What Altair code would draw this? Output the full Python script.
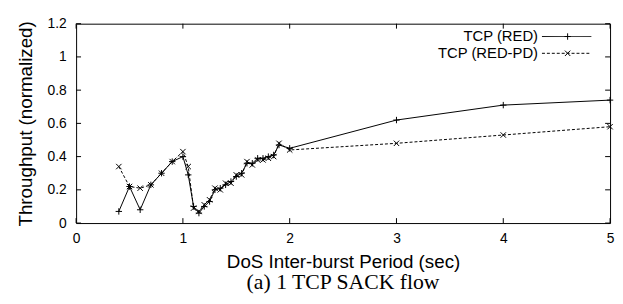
import altair as alt
import pandas as pd

# ---- data ----
period = [0.4, 0.5, 0.6, 0.7, 0.8, 0.9, 1.0, 1.05, 1.1, 1.15, 1.2, 1.25, 1.3, 1.35,
          1.4, 1.45, 1.5, 1.55, 1.6, 1.65, 1.7, 1.75, 1.8, 1.85, 1.9, 2.0, 3.0, 4.0, 5.0]
red = [0.07, 0.22, 0.08, 0.23, 0.30, 0.37, 0.40, 0.29, 0.10, 0.06, 0.10, 0.13, 0.20, 0.21,
       0.23, 0.25, 0.28, 0.30, 0.36, 0.36, 0.39, 0.39, 0.40, 0.41, 0.47, 0.45, 0.62, 0.71, 0.74]
redpd = [0.34, 0.22, 0.21, 0.23, 0.30, 0.37, 0.43, 0.34, 0.09, 0.07, 0.11, 0.14, 0.21, 0.20,
         0.24, 0.24, 0.29, 0.29, 0.37, 0.35, 0.38, 0.38, 0.39, 0.40, 0.48, 0.44, 0.48, 0.53, 0.58]
series_names = ["TCP (RED)", "TCP (RED-PD)"]
x_ticks = [0, 1, 2, 3, 4, 5]
y_ticks = [0, 0.2, 0.4, 0.6, 0.8, 1.0, 1.2]
x_title = "DoS Inter-burst Period (sec)"
y_title = "Throughput (normalized)"
caption = "(a) 1 TCP SACK flow"

W, H = 541, 202
FONT = "Liberation Sans"
PLUS = "M-1,0L1,0M0,-1L0,1"
CROSS = "M-1,-1L1,1M-1,1L1,-1"

df_red = pd.DataFrame({"period": period, "value": red})
df_pd = pd.DataFrame({"period": period, "value": redpd})

xs = alt.Scale(domain=[0, 5], nice=False, zero=False)
ys = alt.Scale(domain=[0, 1.2], nice=False, zero=False)

x_axis = alt.Axis(values=x_ticks, title=x_title, grid=False, ticks=False, domain=False,
                  labelFont=FONT, labelFontSize=14, labelColor="black", labelPadding=9,
                  titleFont=FONT, titleFontSize=19, titleFontWeight="normal",
                  titleColor="black", titlePadding=7, labelFlush=False)
y_axis = alt.Axis(values=y_ticks, title=y_title, grid=False, ticks=False, domain=False,
                  format="~g",
                  labelFont=FONT, labelFontSize=14, labelColor="black", labelPadding=10,
                  titleFont=FONT, titleFontSize=19, titleFontWeight="normal",
                  titleColor="black", titlePadding=12, labelFlush=False)


def X(field):
    return alt.X(field, scale=xs, axis=x_axis)


def Y(field):
    return alt.Y(field, scale=ys, axis=y_axis)


red_line = alt.Chart(df_red).mark_line(color="black", strokeWidth=1).encode(
    x=X("period:Q"), y=Y("value:Q"))
pd_line = alt.Chart(df_pd).mark_line(color="black", strokeWidth=1, strokeDash=[3, 2]).encode(
    x=X("period:Q"), y=Y("value:Q"))
red_pts = alt.Chart(df_red).mark_point(shape=PLUS, size=42, color="black", strokeWidth=1,
                                       filled=False, opacity=1).encode(
    x=X("period:Q"), y=Y("value:Q"))
pd_pts = alt.Chart(df_pd).mark_point(shape=CROSS, size=30, color="black", strokeWidth=1,
                                     filled=False, opacity=1).encode(
    x=X("period:Q"), y=Y("value:Q"))

# inward tick marks on all four sides
xt = pd.DataFrame({"period": x_ticks})
yt = pd.DataFrame({"value": y_ticks})
TL = 5
xb = alt.Chart(xt).mark_rule(color="black", strokeWidth=1).encode(
    x=X("period:Q"), y=alt.value(H), y2=alt.value(H - TL))
xtop = alt.Chart(xt).mark_rule(color="black", strokeWidth=1).encode(
    x=X("period:Q"), y=alt.value(0), y2=alt.value(TL))
yl = alt.Chart(yt).mark_rule(color="black", strokeWidth=1).encode(
    y=Y("value:Q"), x=alt.value(0), x2=alt.value(TL))
yr = alt.Chart(yt).mark_rule(color="black", strokeWidth=1).encode(
    y=Y("value:Q"), x=alt.value(W), x2=alt.value(W - TL))

# legend (top right, inside the frame)
lg_text_x, lg_x1, lg_x2, lg_mx = 468, 472, 522, 498
lg_y = [13, 30]
lg = []
for i, (name, dash, shape, sz) in enumerate([(series_names[0], [1, 0], PLUS, 42),
                                              (series_names[1], [3, 2], CROSS, 30)]):
    d = pd.DataFrame({"n": [name]})
    lg.append(alt.Chart(d).mark_text(
        align="right", baseline="middle", font=FONT, fontSize=15, color="black").encode(
        x=alt.value(lg_text_x), y=alt.value(lg_y[i]), text="n:N"))
    lg.append(alt.Chart(d).mark_rule(
        color="black", strokeWidth=1, strokeDash=dash).encode(
        x=alt.value(lg_x1), x2=alt.value(lg_x2), y=alt.value(lg_y[i])))
    lg.append(alt.Chart(d).mark_point(
        shape=shape, size=sz, color="black", strokeWidth=1, filled=False, opacity=1).encode(
        x=alt.value(lg_mx), y=alt.value(lg_y[i])))

chart = alt.layer(red_line, pd_line, red_pts, pd_pts, xb, xtop, yl, yr, *lg).properties(
    width=W, height=H,
    autosize=alt.AutoSizeParams(type="none"),
    padding={"left": 69, "top": 14, "right": 5, "bottom": 72},
    title=alt.TitleParams(caption, orient="bottom", font="Liberation Serif", fontSize=22,
                          fontWeight="normal", color="black", offset=1),
).configure_view(stroke="black", strokeWidth=1)

chart.save("out.html", embed_options={"renderer": "svg", "actions": False})
